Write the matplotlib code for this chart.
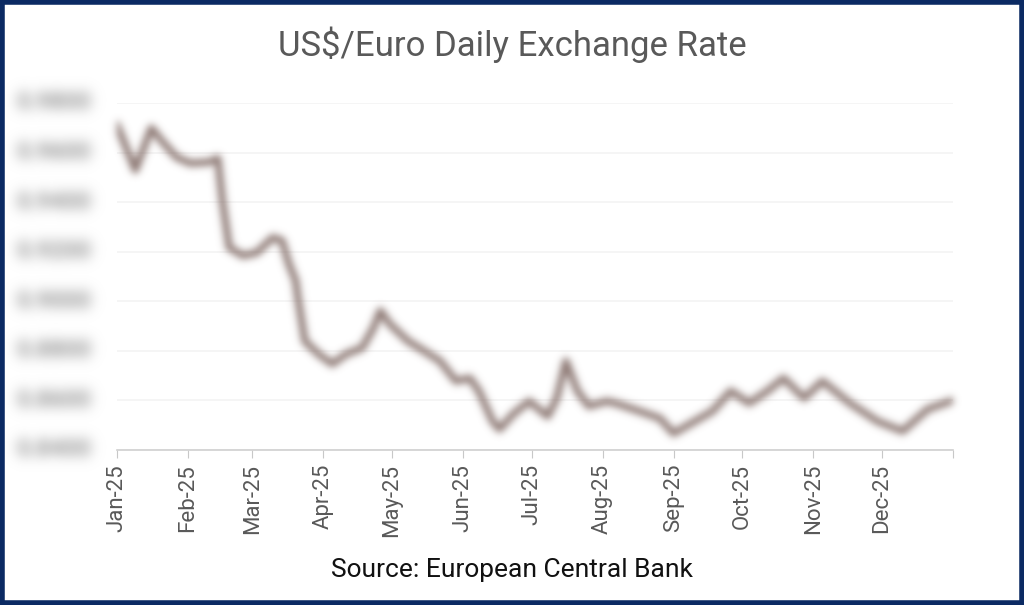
import numpy as np
import pandas as pd
import matplotlib
matplotlib.use("Agg")
import matplotlib.pyplot as plt
from matplotlib.patches import Rectangle

dates = ["2025-01-01", "2025-01-09", "2025-01-16", "2025-01-21", "2025-01-27",
         "2025-02-02", "2025-02-10", "2025-02-14", "2025-02-16", "2025-02-19",
         "2025-02-25", "2025-03-03", "2025-03-10", "2025-03-14", "2025-03-17",
         "2025-03-20", "2025-03-21", "2025-03-24", "2025-03-30", "2025-04-05",
         "2025-04-11", "2025-04-18", "2025-04-23", "2025-04-26", "2025-04-30",
         "2025-05-08", "2025-05-15", "2025-05-22", "2025-05-29", "2025-06-04",
         "2025-06-08", "2025-06-14", "2025-06-17", "2025-06-23", "2025-06-30",
         "2025-07-08", "2025-07-12", "2025-07-16", "2025-07-21", "2025-07-26",
         "2025-08-03", "2025-08-08", "2025-08-17", "2025-08-26", "2025-09-01",
         "2025-09-08", "2025-09-18", "2025-09-26", "2025-10-04", "2025-10-12",
         "2025-10-19", "2025-10-28", "2025-11-05", "2025-11-17", "2025-11-29",
         "2025-12-10", "2025-12-21", "2025-12-31"]
rate = [0.9711, 0.9529, 0.9699, 0.9642, 0.9581,
        0.9557, 0.9561, 0.9577, 0.9407, 0.9217,
        0.9184, 0.9196, 0.9257, 0.9245, 0.9152,
        0.9083, 0.9014, 0.8840, 0.8787, 0.8747,
        0.8787, 0.8812, 0.8893, 0.8962, 0.8909,
        0.8840, 0.8800, 0.8759, 0.8678, 0.8690,
        0.8638, 0.8516, 0.8484, 0.8545, 0.8597,
        0.8536, 0.8609, 0.8759, 0.8638, 0.8577,
        0.8597, 0.8585, 0.8557, 0.8528, 0.8467,
        0.8504, 0.8557, 0.8638, 0.8589, 0.8638,
        0.8690, 0.8609, 0.8678, 0.8589, 0.8516,
        0.8476, 0.8565, 0.8597]
y_ticks = [0.84, 0.86, 0.88, 0.90, 0.92, 0.94, 0.96, 0.98]
month_ticks = pd.date_range("2025-01-01", "2026-01-01", freq="MS")
month_labels = [d.strftime("%b-%y") for d in month_ticks[:-1]] + [""]

dates = pd.to_datetime(dates)


def blur(sigma, color, gain=1.0):
    # gaussian blur on the alpha channel, used as agg_filter
    def f(im, dpi):
        pad = int(3 * sigma) + 2
        a = np.pad(im[:, :, 3], pad)
        r = int(3 * sigma) + 1
        k = np.exp(-0.5 * (np.arange(-r, r + 1) / sigma) ** 2)
        k /= k.sum()
        h, w = a.shape
        t = np.pad(a, ((r, r), (0, 0)))
        a = sum(k[i] * t[i:i + h, :] for i in range(len(k)))
        t = np.pad(a, ((0, 0), (r, r)))
        a = sum(k[i] * t[:, i:i + w] for i in range(len(k)))
        out = np.zeros((h, w, 4))
        out[:, :, :3] = matplotlib.colors.to_rgb(color)
        out[:, :, 3] = np.clip(a * gain, 0, 1)
        return out, -pad, -pad
    return f


plt.rcParams["font.family"] = ["Roboto", "DejaVu Sans"]

fig = plt.figure(figsize=(10.24, 6.05), dpi=100)
ax = fig.add_axes([117 / 1024, 155 / 605, 836 / 1024, 347 / 605])

line, = ax.plot(dates, rate, color="#6e5751", lw=5, solid_joinstyle="round")
line.set_agg_filter(blur(3.8, "#8a7570"))

ax.set_xlim(pd.Timestamp("2025-01-01"), pd.Timestamp("2026-01-01"))
ax.set_ylim(0.84, 0.98)
ax.set_yticks(y_ticks)
ax.set_yticklabels([])
ax.set_xticks(month_ticks)
ax.set_xticklabels(month_labels, rotation=90, fontsize=16, color="#595959")
ax.tick_params(axis="x", length=6, color="#c8c8c8", pad=4)
ax.tick_params(axis="y", length=0)

# blurred y labels, as in the picture
for v in y_ticks:
    t = ax.text(-0.03, v, f"{v:.4f}", transform=ax.get_yaxis_transform(),
                ha="right", va="center", fontsize=17, fontweight="bold",
                color="#aaaaaa", clip_on=False)
    t.set_agg_filter(blur(6.5, "#b8b8b8", gain=1.6))

ax.grid(axis="y", color="#f4f4f4", lw=1.2)
ax.set_axisbelow(True)
for s in ["top", "right", "left"]:
    ax.spines[s].set_visible(False)
ax.spines["bottom"].set_color("#d0d0d0")
ax.spines["bottom"].set_linewidth(1.2)

fig.text(0.5, 1 - 45 / 605, "US$/Euro Daily Exchange Rate", ha="center", va="center",
         fontsize=25, color="#595959")
fig.text(0.5, 1 - 570 / 605, "Source: European Central Bank", ha="center", va="center",
         fontsize=19, color="#111111")

# navy frame around the picture
fig.patches.append(Rectangle((0.002, 0.003), 0.996, 0.994, transform=fig.transFigure,
                             fill=False, edgecolor="#0b2a63", lw=4))

fig.savefig("out.png", dpi=100)
